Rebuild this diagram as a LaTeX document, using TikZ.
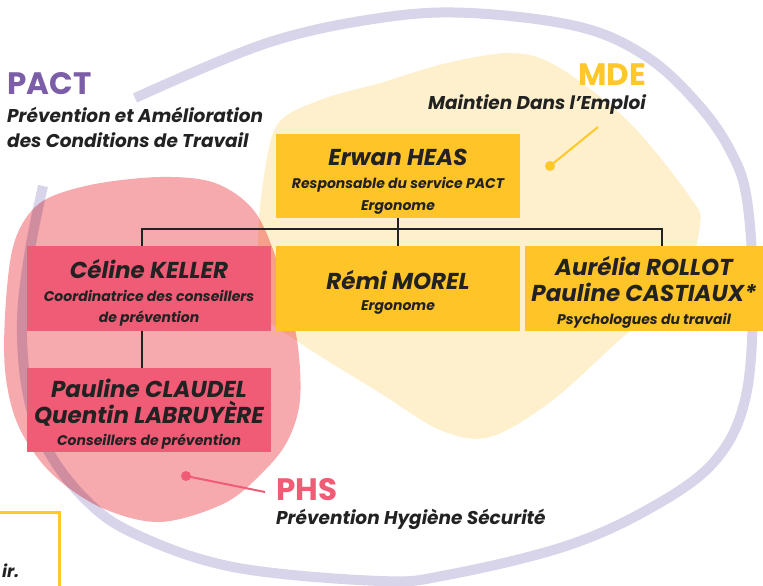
\documentclass[tikz,border=0pt]{standalone}
\usepackage{fontspec}
\setmainfont{Poppins}
\usetikzlibrary{calc}
\definecolor{lav}{RGB}{216,212,234}
\definecolor{pinkblob}{RGB}{246,170,174}
\definecolor{cream}{RGB}{255,240,205}
\definecolor{boxyel}{RGB}{255,196,40}
\definecolor{boxpink}{RGB}{240,91,118}
\definecolor{pactpur}{RGB}{123,94,167}
\definecolor{mdeyel}{RGB}{255,199,44}
\definecolor{txt}{RGB}{34,34,34}
\newcommand{\nmf}{\fontsize{23}{22}\selectfont}
\newcommand{\topst}{\rule{0pt}{27.5pt}}
\newcommand{\botst}{\rule[-4pt]{0pt}{4pt}}
\newcommand{\boxfont}{\bfseries\itshape\fontsize{14}{22}\selectfont\lineskiplimit=-100pt\relax}
\newcommand{\subfont}{\bfseries\itshape\fontsize{18.5}{25}\selectfont}
\tikzset{
  x=1pt, y=-1pt,
  orgbox/.style={rectangle, inner sep=0pt, minimum width=244pt, minimum height=84pt,
    align=center, text=txt, font=\boxfont},
  yelbox/.style={orgbox, fill=boxyel},
  pinkbox/.style={orgbox, fill=boxpink},
  conn/.style={draw=txt, line width=1.3pt},
  heading/.style={inner sep=0pt, font=\bfseries\fontsize{31}{34}\selectfont},
  subhead/.style={inner sep=0pt, text=txt, font=\subfont},
}
\begin{document}
\begin{tikzpicture}
\useasboundingbox (0,0) rectangle (763,586);
% lavender loop
\draw[lav, line width=10pt] plot[smooth, tension=0.6] coordinates {
 (43,186) (30,250) (22,320) (27,390) (45,445) (83,497) (133,533) (233,567)
 (380,581) (447,575) (563,547) (647,510) (713,463) (745,400) (753,300)
 (747,200) (730,150) (697,103) (647,57) (580,27) (470,13) (380,18) (267,43) (135,98)};
% MDE blob
\fill[cream] plot[smooth cycle, tension=0.55] coordinates {
 (258,250) (262,190) (277,125) (320,100) (380,83) (447,63) (513,53) (560,68)
 (630,123) (690,197) (700,225) (680,290) (625,335) (553,400) (490,437) (440,430)
 (380,393) (300,343) (262,310)};
% PHS blob
\begin{scope}[blend mode=multiply]
\fill[pinkblob] plot[smooth cycle, tension=0.55] coordinates {
 (5,370) (6,300) (15,240) (40,203) (90,185) (160,177) (215,183) (255,212)
 (280,270) (297,340) (300,400) (288,440) (265,470) (225,503) (160,522)
 (100,507) (50,472) (18,425)};
\end{scope}
% bottom-left note box
\draw[mdeyel, line width=3pt] (-10,512) -- (59,512) -- (59,600);
\node[anchor=base west, inner sep=0pt, text=txt, font=\bfseries\itshape\fontsize{17}{20}\selectfont] (note) at (2,577) {ir.};
% headings
\node[heading, text=pactpur, anchor=base west] (pact) at (7,95) {PACT};
\node[subhead, anchor=base west] (pactsubA) at (7,122) {Prévention et Amélioration};
\node[subhead, anchor=base west] (pactsubB) at (7,147) {des Conditions de Travail};
\node[heading, text=mdeyel, anchor=base east] (mde) at (646,85) {MDE};
\node[subhead, anchor=base east] (mdesub) at (646,110) {Maintien Dans l'Emploi};
\node[heading, text=boxpink, anchor=base west] (phs) at (276,500) {PHS};
\node[subhead, anchor=base west] (phssub) at (276,524) {Prévention Hygiène Sécurité};
% pointers
\coordinate (mdeend) at (598,127);
\node[circle, fill=mdeyel, inner sep=0pt, minimum size=10pt] (mdedot) at (550,166) {};
\draw[mdeyel, line width=2pt] (mdedot.center) -- (mdeend);
\coordinate (phsend) at (265,492);
\node[circle, fill=boxpink, inner sep=0pt, minimum size=10pt] (phsdot) at (186,476) {};
\draw[boxpink, line width=2pt] (phsdot.center) -- (phsend);
% boxes
\node[yelbox] (erwan) at (398,176) {\topst{\nmf Erwan HEAS}\\[1pt]Responsable du service PACT\\Ergonome\botst};
\node[pinkbox, minimum height=85pt] (celine) at (149,288.5) {\topst{\nmf Céline KELLER}\\[1pt]Coordinatrice des conseillers\\[-1pt]de prévention\botst};
\node[yelbox, minimum height=85pt] (remi) at (398,288.5) {\topst{\nmf Rémi MOREL}\\[-1pt]Ergonome\botst};
\node[yelbox, minimum height=85pt, minimum width=238pt] (aurelia) at (644,288.5) {\topst{\nmf Aurélia ROLLOT}\\[4pt]{\nmf Pauline CASTIAUX*}\\[1pt]Psychologues du travail\botst};
\node[pinkbox] (pauline) at (149,410) {\topst{\nmf Pauline CLAUDEL}\\[4pt]{\nmf Quentin LABRUYÈRE}\\Conseillers de prévention\botst};
% connectors
\coordinate (hbL) at (142,229);
\coordinate (hbR) at (662,229);
\draw[conn] (erwan.south) -- (remi.north);
\draw[conn] (hbL |- celine.north) -- (hbL) -- (hbR) -- (hbR |- aurelia.north);
\draw[conn] (hbL |- celine.south) -- (hbL |- pauline.north);
\end{tikzpicture}
\end{document}
